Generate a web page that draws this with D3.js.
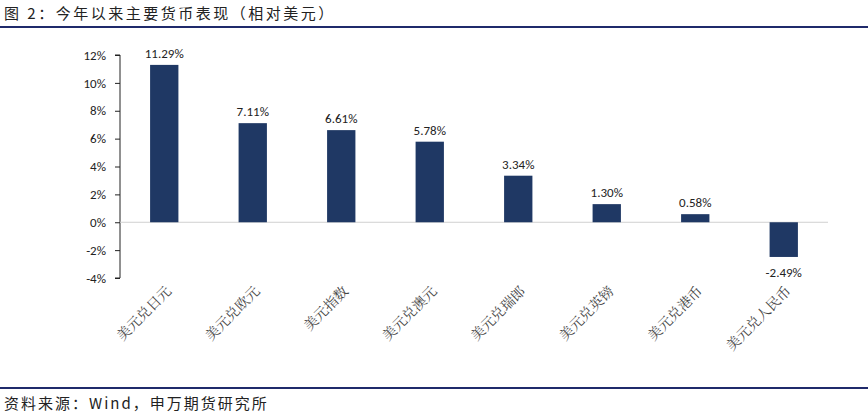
<!DOCTYPE html>
<html><head><meta charset="utf-8">
<script src="https://cdn.jsdelivr.net/npm/d3@7"></script>
<style>
body{margin:0;background:#fff;}
text{font-family:"Noto Sans CJK SC","Noto Sans",sans-serif;}
</style></head>
<body><div id="chart"></div>
<script>
var categories = ['美元兑日元','美元兑欧元','美元指数','美元兑澳元','美元兑瑞郎','美元兑英镑','美元兑港币','美元兑人民币'];
var values = [11.29, 7.11, 6.61, 5.78, 3.34, 1.30, 0.58, -2.49];
var yTicks = [-4, -2, 0, 2, 4, 6, 8, 10, 12];

var W = 868, H = 415;
var svg = d3.select('#chart').append('svg').attr('width', W).attr('height', H);

// title + rules
svg.append('text').attr('x', 4).attr('y', 19).attr('font-size', 15)
    .attr('letter-spacing', 2.5).attr('fill', '#222')
    .text('图 2：今年以来主要货币表现（相对美元）');
svg.append('line').attr('x1', 0).attr('x2', W).attr('y1', 27).attr('y2', 27)
    .attr('stroke', '#1f2a6b').attr('stroke-width', 2);
svg.append('line').attr('x1', 0).attr('x2', W).attr('y1', 388).attr('y2', 388)
    .attr('stroke', '#1f2a6b').attr('stroke-width', 2);
svg.append('text').attr('x', 4).attr('y', 409).attr('font-size', 15)
    .attr('letter-spacing', 2).attr('fill', '#222')
    .text('资料来源：Wind，申万期货研究所');

var x = d3.scaleBand().domain(categories).range([120, 828]).paddingInner(0.68).paddingOuter(0.34);
var y = d3.scaleLinear().domain([-4, 12]).range([278, 55]);

var yAxis = svg.append('g').attr('transform', 'translate(120,0)')
    .call(d3.axisLeft(y).tickValues(yTicks).tickSize(5).tickFormat(function(d){ return d + '%'; }));
yAxis.selectAll('path,line').attr('stroke', '#222');
yAxis.selectAll('text').attr('font-size', 13).attr('fill', '#222').attr('dx', -6)
    .style('font-family', 'Calibri,"Liberation Sans",sans-serif');
yAxis.select('.domain').attr('d', 'M-5,' + y(12) + 'H0V' + y(-4) + 'H-5');

// zero line
svg.append('line').attr('x1', 120).attr('x2', 828).attr('y1', y(0)).attr('y2', y(0))
    .attr('stroke', '#d0d0d0');

svg.append('g').selectAll('rect').data(values).enter().append('rect')
    .attr('x', function(d, i){ return x(categories[i]); })
    .attr('width', x.bandwidth())
    .attr('y', function(d){ return y(Math.max(0, d)); })
    .attr('height', function(d){ return Math.abs(y(d) - y(0)); })
    .attr('fill', '#1f3864');

svg.append('g').selectAll('text').data(values).enter().append('text')
    .attr('x', function(d, i){ return x(categories[i]) + x.bandwidth() / 2; })
    .attr('y', function(d){ return d >= 0 ? y(d) - 7 : y(d) + 20; })
    .attr('text-anchor', 'middle').attr('font-size', 13).attr('fill', '#222')
    .style('font-family', 'Calibri,"Liberation Sans",sans-serif')
    .text(function(d){ return d.toFixed(2) + '%'; });

svg.append('g').selectAll('text').data(categories).enter().append('text')
    .attr('transform', function(d){
      return 'translate(' + (x(d) + x.bandwidth() / 2 + 8) + ',292) rotate(-45)';
    })
    .attr('text-anchor', 'end').attr('font-size', 14).attr('fill', '#444')
    .style('font-family', '"Noto Serif CJK SC","Noto Sans CJK SC",serif')
    .text(function(d){ return d; });
</script></body></html>
